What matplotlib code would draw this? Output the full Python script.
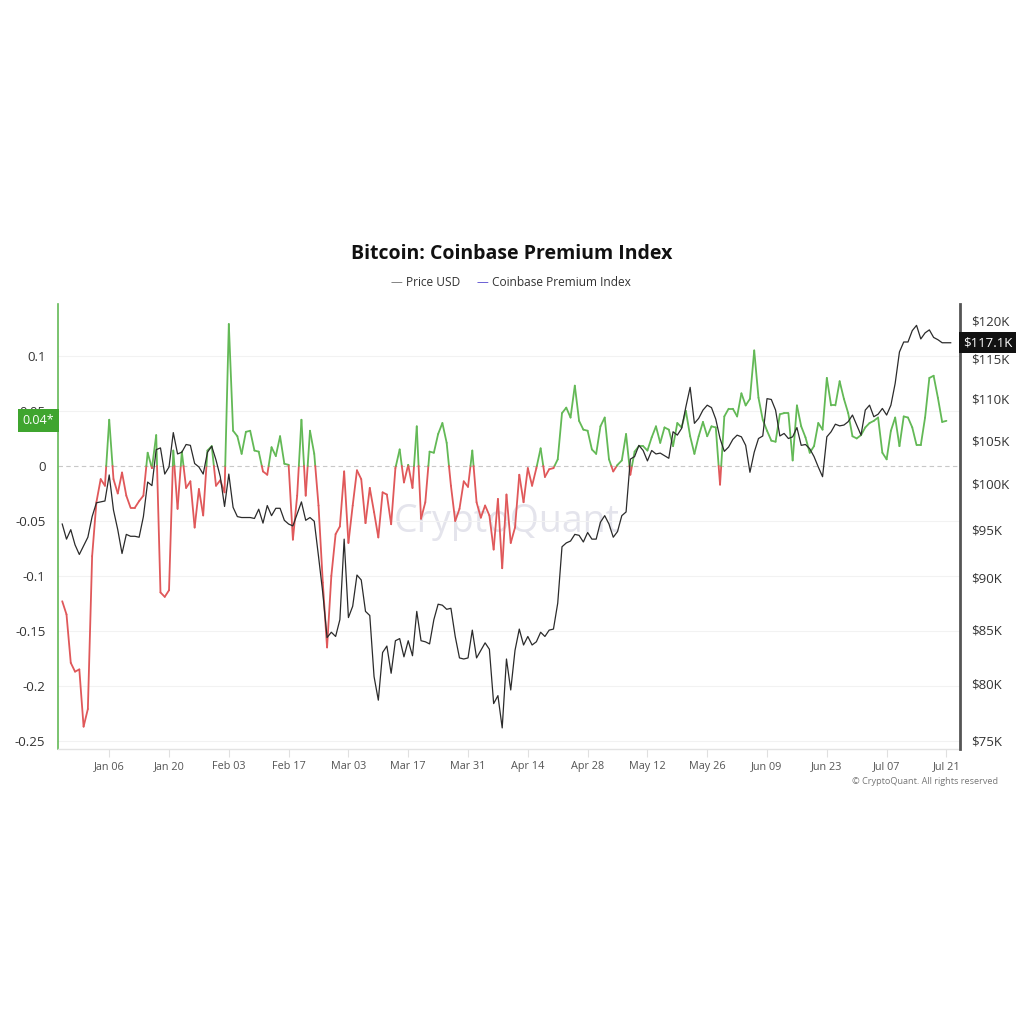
import numpy as np
import pandas as pd
import matplotlib
matplotlib.use("Agg")
import matplotlib.pyplot as plt
import matplotlib.dates as mdates
from matplotlib.collections import LineCollection
from matplotlib.ticker import FixedLocator, NullLocator

plt.rcParams['font.family'] = ['Open Sans', 'DejaVu Sans']

# ---------------- data ----------------
start_date = "2024-12-26"

premium = [
    -0.123, -0.135, -0.179, -0.187, -0.185, -0.237, -0.221, -0.082, -0.033, -0.012,
    -0.018, 0.042, -0.012, -0.025, -0.006, -0.027, -0.038, -0.038, -0.032, -0.027,
    0.012, -0.002, 0.028, -0.115, -0.119, -0.113, 0.014, -0.039, 0.013, -0.020,
    -0.014, -0.056, -0.021, -0.045, 0.014, 0.018, -0.018, -0.013, -0.024, 0.129,
    0.032, 0.027, 0.011, 0.031, 0.032, 0.014, 0.013, -0.005, -0.008, 0.017,
    0.009, 0.027, 0.002, 0.001, -0.067, -0.027, 0.042, -0.027, 0.032, 0.011,
    -0.036, -0.106, -0.165, -0.100, -0.062, -0.055, -0.005, -0.070, -0.036, -0.004,
    -0.012, -0.052, -0.020, -0.042, -0.065, -0.024, -0.026, -0.053, -0.002, 0.015,
    -0.015, 0.001, -0.020, 0.036, -0.048, -0.033, 0.013, 0.012, 0.029, 0.039,
    0.021, -0.018, -0.050, -0.039, -0.014, -0.019, 0.014, -0.033, -0.047, -0.036,
    -0.045, -0.076, -0.030, -0.093, -0.026, -0.070, -0.056, -0.008, -0.033, -0.002,
    -0.018, -0.002, 0.016, -0.010, -0.003, -0.002, 0.006, 0.048, 0.053, 0.044,
    0.073, 0.041, 0.033, 0.032, 0.015, 0.011, 0.036, 0.044, 0.006, -0.005,
    0.001, 0.005, 0.029, -0.008, 0.013, 0.018, 0.018, 0.014, 0.026, 0.036,
    0.021, 0.035, 0.033, 0.018, 0.039, 0.035, 0.050, 0.027, 0.011, 0.027,
    0.040, 0.027, 0.036, 0.035, -0.017, 0.045, 0.052, 0.052, 0.045, 0.066,
    0.055, 0.061, 0.105, 0.062, 0.042, 0.032, 0.023, 0.022, 0.047, 0.048,
    0.048, 0.005, 0.055, 0.036, 0.026, 0.012, 0.018, 0.039, 0.033, 0.080,
    0.055, 0.055, 0.077, 0.061, 0.048, 0.027, 0.025, 0.028, 0.035, 0.039,
    0.041, 0.044, 0.012, 0.006, 0.032, 0.044, 0.018, 0.045, 0.044, 0.035,
    0.019, 0.019, 0.044, 0.080, 0.082, 0.062, 0.040, 0.041,
]

price_usd = [
    95600, 94000, 95000, 93400, 92400, 93300, 94200, 96400, 97900, 98000,
    98100, 101000, 97100, 95000, 92500, 94500, 94300, 94300, 94200, 96400,
    100200, 99800, 103900, 104100, 101100, 101900, 105900, 103400, 103600, 104500,
    104400, 102300, 101900, 101100, 103600, 104300, 102700, 100800, 97500, 101100,
    97400, 96400, 96300, 96300, 96300, 96200, 97200, 95700, 97600, 96500,
    97300, 97300, 96000, 95600, 95400, 96700, 98000, 96000, 96300, 95900,
    92200, 88500, 84200, 84700, 84300, 85900, 94000, 86100, 87200, 90300,
    89800, 86700, 86300, 80600, 78500, 82800, 83400, 80900, 83900, 84100,
    82400, 83900, 82500, 86700, 83900, 83800, 83600, 85900, 87400, 87300,
    86900, 87000, 84300, 82300, 82200, 82300, 84900, 82300, 83000, 83700,
    83100, 78200, 78900, 76100, 82200, 79400, 83000, 85000, 83500, 84300,
    83500, 83800, 84700, 84300, 84900, 85000, 87500, 93200, 93600, 93800,
    94500, 94400, 93700, 94700, 94000, 94000, 95800, 96500, 95600, 94200,
    94800, 96500, 96900, 102800, 103100, 104400, 103800, 102600, 103800, 103400,
    103500, 103200, 102900, 106000, 105600, 106400, 109000, 111400, 107000, 107600,
    108600, 109200, 108900, 107500, 105200, 103700, 104200, 105100, 105600, 105400,
    104400, 101300, 103600, 105200, 105500, 110000, 109900, 108600, 105500, 105800,
    105200, 105400, 106500, 104400, 104500, 104000, 103100, 101900, 100800, 105400,
    106000, 106900, 106700, 106800, 107200, 108000, 106800, 105600, 108600, 109200,
    107800, 108100, 108800, 108000, 109200, 111900, 115900, 117200, 117200, 118700,
    119400, 117600, 118400, 118800, 117800, 117500, 117100, 117100, 117100,
]

x_tick_dates = ["2025-01-06", "2025-01-20", "2025-02-03", "2025-02-17", "2025-03-03",
                "2025-03-17", "2025-03-31", "2025-04-14", "2025-04-28", "2025-05-12",
                "2025-05-26", "2025-06-09", "2025-06-23", "2025-07-07", "2025-07-21"]
left_ticks = [0.1, 0.05, 0, -0.05, -0.1, -0.15, -0.2, -0.25]
left_tick_labels = ["0.1", "0.05", "0", "-0.05", "-0.1", "-0.15", "-0.2", "-0.25"]
right_ticks = [75000, 80000, 85000, 90000, 95000, 100000, 105000, 110000, 115000, 120000]
right_tick_labels = ["$75K", "$80K", "$85K", "$90K", "$95K", "$100K", "$105K", "$110K", "$115K", "$120K"]

title = "Bitcoin: Coinbase Premium Index"
premium_label = "0.04*"
price_label = "$117.1K"

# ---------------- styles ----------------
GREEN = "#63b956"
RED = "#e0585a"
GREEN_BOX = "#3fa52f"
TEXT = "#333333"
TICK_TEXT = "#555555"

prem_dates = pd.date_range(start_date, periods=len(premium), freq="D")
price_dates = pd.date_range(start_date, periods=len(price_usd), freq="D")
px = mdates.date2num(prem_dates)
pv = np.array(premium)

fig = plt.figure(figsize=(10.24, 10.24), dpi=100)
ax = fig.add_axes([0.0566, 0.2686, 0.881, 0.4346])
ax2 = ax.twinx()
ax.set_zorder(2)
ax.patch.set_visible(False)

# grid lines (faint) for left ticks
for t in left_ticks:
    if t != 0:
        ax.axhline(t, color="#f2f2f2", lw=0.8, zorder=0)
ax.axhline(0, color="#c8c8c8", lw=0.8, ls=(0, (4, 3)), zorder=1)

# premium coloured by sign: split segments at zero crossings
segs, cols = [], []
for i in range(len(pv) - 1):
    x0, x1, y0, y1 = px[i], px[i + 1], pv[i], pv[i + 1]
    if (y0 >= 0) == (y1 >= 0):
        segs.append([(x0, y0), (x1, y1)])
        cols.append(GREEN if (y0 + y1) >= 0 else RED)
    else:
        xc = x0 + (x1 - x0) * (0 - y0) / (y1 - y0)
        segs.append([(x0, y0), (xc, 0)])
        cols.append(GREEN if y0 >= 0 else RED)
        segs.append([(xc, 0), (x1, y1)])
        cols.append(GREEN if y1 >= 0 else RED)
lc = LineCollection(segs, colors=cols, linewidths=1.3, capstyle="round", joinstyle="round")
ax.add_collection(lc)

# price on log axis
ax2.plot(price_dates, price_usd, color="#2b2b2b", lw=0.9, zorder=3)
ax2.set_yscale("log")
ax2.set_ylim(74330, 122300)
ax2.yaxis.set_major_locator(FixedLocator(right_ticks))
ax2.yaxis.set_minor_locator(NullLocator())
ax2.set_yticklabels(right_tick_labels)
ax2.tick_params(axis="y", length=0, pad=8, labelsize=9.5, labelcolor=TEXT)
ax2.set_zorder(3)

ax.set_ylim(-0.2573, 0.1473)
ax.set_yticks(left_ticks)
ax.set_yticklabels(left_tick_labels)
ax.tick_params(axis="y", length=0, pad=9, labelsize=9.5, labelcolor=TEXT)

xmin = mdates.date2num(pd.Timestamp(start_date)) - 1.0
xmax = mdates.date2num(pd.Timestamp(start_date)) + 210.2
ax.set_xlim(xmin, xmax)
ax.set_xticks(mdates.date2num(pd.to_datetime(x_tick_dates)))
ax.xaxis.set_major_formatter(mdates.DateFormatter("%b %d"))
ax.tick_params(axis="x", length=6, width=0.8, color="#e0e0e0", labelsize=7.8,
               labelcolor=TICK_TEXT, pad=3)

for a in (ax, ax2):
    for s in a.spines.values():
        s.set_visible(False)
ax.spines["left"].set_visible(True)
ax.spines["left"].set_color(GREEN)
ax.spines["left"].set_linewidth(1.2)
ax.spines["bottom"].set_visible(True)
ax.spines["bottom"].set_color("#e3e3e3")
ax.spines["bottom"].set_linewidth(1.0)
ax2.spines["right"].set_visible(True)
ax2.spines["right"].set_color("#555555")
ax2.spines["right"].set_linewidth(2.0)

# value label boxes
ax.text(-0.004, premium[-1], premium_label, transform=ax.get_yaxis_transform(),
        ha="right", va="center", fontsize=9, color="white", zorder=10,
        bbox=dict(boxstyle="square,pad=0.4", fc=GREEN_BOX, ec="none"))
ax2.text(1.003, price_usd[-1], price_label, transform=ax2.get_yaxis_transform(),
         ha="left", va="center", fontsize=9.5, color="white", zorder=10,
         bbox=dict(boxstyle="square,pad=0.3", fc="#111111", ec="none"))

# watermark
fig.text(0.495, 0.49, "CryptoQuant", fontsize=27, color="#e4e4ec", ha="center",
         va="center", zorder=0)

# title and legend
fig.text(0.5, 0.752, title, ha="center", va="center", fontsize=14,
         fontweight="bold", color="#111111")
fig.text(0.3875, 0.7245, "—", ha="center", va="center", fontsize=8.5, color="#777777")
fig.text(0.3965, 0.7245, "Price USD", ha="left", va="center", fontsize=8.6, color=TEXT)
fig.text(0.4715, 0.7245, "—", ha="center", va="center", fontsize=8.5, color="#5b4fd0")
fig.text(0.4805, 0.7245, "Coinbase Premium Index", ha="left", va="center",
         fontsize=8.6, color=TEXT)

fig.text(0.975, 0.2365, "© CryptoQuant. All rights reserved", ha="right", va="center",
         fontsize=6.6, color="#777777")

fig.savefig("out.png", dpi=100, facecolor="white")
